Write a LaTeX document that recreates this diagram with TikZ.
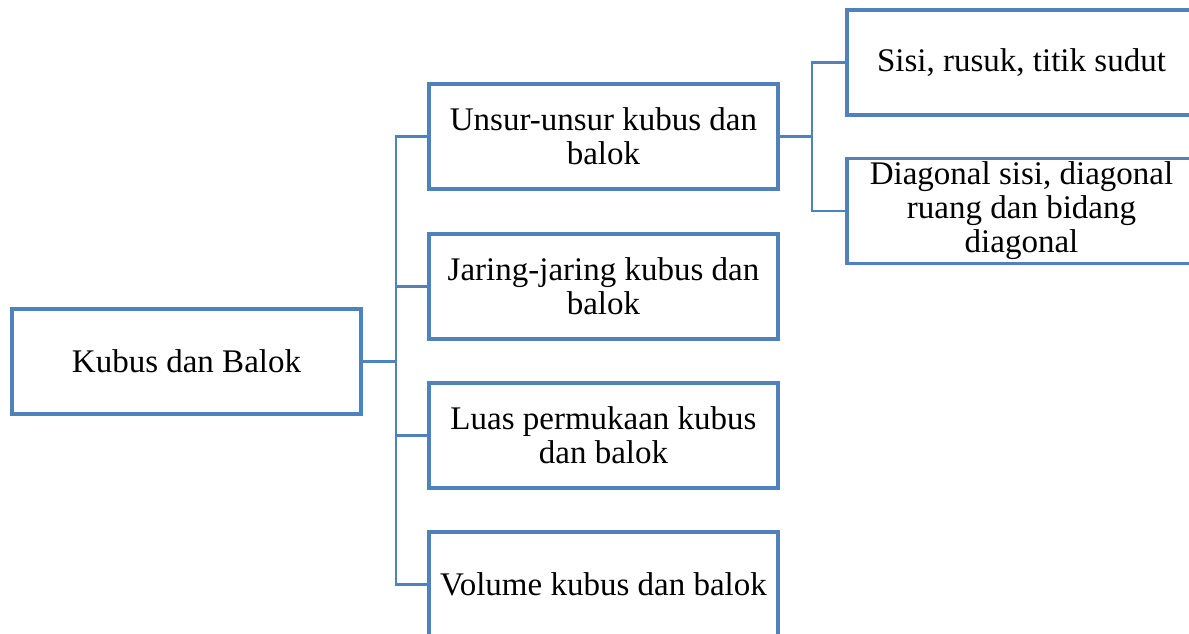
\documentclass[tikz,border=0pt]{standalone}
\usepackage{fontspec}
\setmainfont{Liberation Serif}
\definecolor{boxblue}{RGB}{79,129,189}
\begin{document}
\begin{tikzpicture}[x=1pt,y=-1pt,
  topic/.style={draw=boxblue, line width=3.5pt, fill=white, rectangle,
    minimum width=349pt, minimum height=105pt, inner sep=0pt,
    align=center, font=\fontsize{33}{34}\selectfont},
  link/.style={draw=boxblue, line width=2.4pt}]
\clip (0,0) rectangle (1189,634);
\fill[white] (0,0) rectangle (1189,634);

% root
\node[topic] (root) at (186.5,361.5) {Kubus dan Balok};

% first level
\node[topic] (unsur)  at (603.5,136.5) {Unsur-unsur kubus dan\\balok};
\node[topic] (jaring) at (603.5,286.5) {Jaring-jaring kubus dan\\balok};
\node[topic] (luas)   at (603.5,435.5) {Luas permukaan kubus\\dan balok};
\node[topic] (volume) at (603.5,584.5) {Volume kubus dan balok};

% second level
\node[topic] (sisi) at (1021.5,62.5) {Sisi, rusuk, titik sudut};
\node[topic] (diag) at (1021.5,211) {Diagonal sisi, diagonal\\ruang dan bidang\\diagonal};

% connectors from the root
\coordinate (trunk) at (396,361.5);
\draw[link] (root.east) -- (trunk);
\foreach \n in {unsur,jaring,luas,volume}
  \draw[link] (trunk) |- (\n.west);

% connectors from the first topic
\coordinate (fork) at (812,136.5);
\draw[link] (unsur.east) -- (fork);
\foreach \n in {sisi,diag}
  \draw[link] (fork) |- (\n.west);
\end{tikzpicture}
\end{document}
